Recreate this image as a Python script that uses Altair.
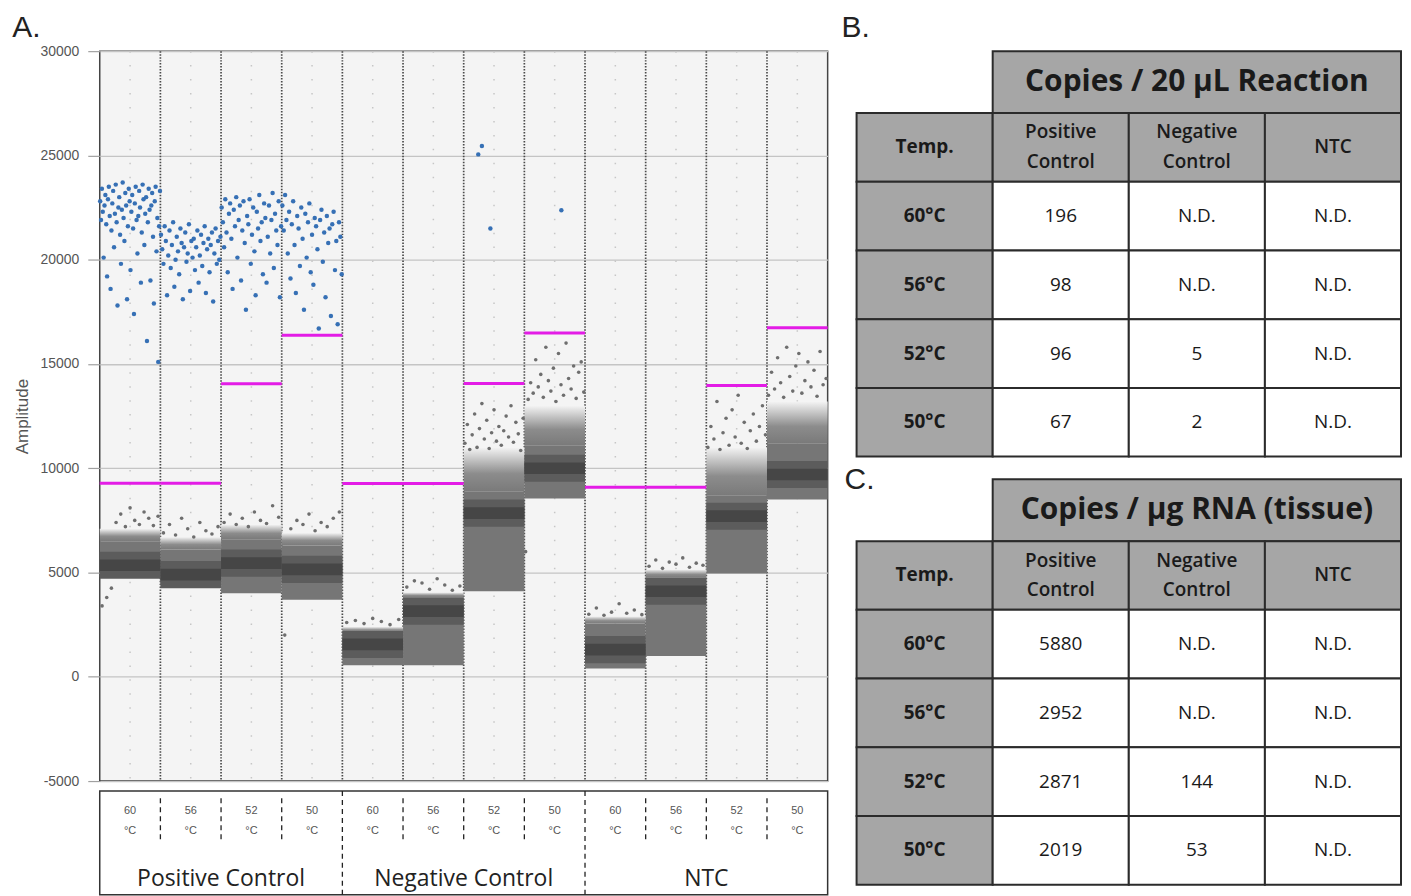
import altair as alt
import pandas as pd

# ---------------- data: panel A (droplet amplitudes) ----------------
group_names = ["Positive Control", "Negative Control", "NTC"]
temp_labels = ["60", "56", "52", "50"]

thresholds = [9280, 9280, 14050, 16380, 9270, 9270, 14060, 16490, 9090, 9090, 13970, 16740]
neg_bottom = [4800, 4400, 4000, 3700, 550, 550, 4100, 8550, 400, 1000, 4950, 8500]
neg_band = [5350, 4900, 5450, 5150, 1550, 3150, 7850, 10000, 1300, 4100, 7700, 9700]
neg_top = [6500, 6100, 6600, 6300, 2150, 3800, 8900, 11100, 2550, 4750, 8700, 11200]
neg_haze = [7100, 6700, 7300, 6900, 2400, 4050, 11000, 13000, 2900, 5150, 11000, 13200]

pos_w1 = [22800, 21900, 23400, 22300, 20100, 22600, 23100, 21700, 19200, 22900, 23500, 22100, 18600, 21400,
          22700, 23300, 20600, 22200, 23600, 21800, 17800, 22500, 23000, 21200, 19800, 22400, 23700, 22000,
          20900, 23200, 22600, 18100, 21600, 23400, 22800, 19500, 22300, 23100, 21500, 17400, 22700, 23500,
          21900, 20300, 22100, 23300, 22500, 18900, 21300, 23600, 22900, 20700, 22200, 23000, 16100, 21800,
          23400, 22400, 19000, 22600, 23200, 21100, 17900, 22800, 23500, 20400, 22000, 15100, 21600, 23300]
pos_w2 = [21200, 20500, 19800, 21600, 20900, 18300, 20200, 21400, 19600, 20700, 21800, 18700, 20000, 21100,
          20400, 19300, 21500, 20800, 18100, 20600, 21300, 19900, 20300, 21700, 18500, 20900, 20100, 21000,
          19500, 20600, 21400, 18900, 20200, 21200, 19700, 20800, 21600, 18400, 20500, 21000, 19400, 20700,
          21300, 18000, 20300, 21500, 19800, 20900, 20000, 21100]
pos_w3 = [22500, 21800, 20600, 22900, 21300, 19400, 22200, 22700, 21000, 18600, 22400, 21600, 23000, 20100,
          21900, 22600, 19000, 21400, 22800, 20800, 17600, 22100, 21700, 22900, 19800, 21200, 22500, 20400,
          18300, 22300, 21500, 23100, 20900, 21800, 19300, 22700, 22000, 18900, 21100, 22600, 20300, 21900,
          23200, 19600, 22200, 21400, 20700, 22800, 18200, 21600]
pos_w4 = [22600, 21400, 23100, 21900, 20300, 22300, 19100, 21700, 22800, 20700, 18400, 22100, 21500, 19700,
          22500, 21000, 17600, 22200, 20100, 21800, 22700, 19400, 21200, 18800, 22000, 21600, 20500, 16700,
          21900, 22400, 19900, 21300, 18200, 22100, 20800, 21500, 17300, 21700, 22300, 19500, 20900, 16900,
          21800, 21100, 19300]
# sparse positive droplets: (event fraction within the well, amplitude)
pos_w7 = [(0.30, 25450), (0.24, 25050), (0.44, 21500)]
pos_w8 = [(0.61, 22370)]

rain = [
    [3400, 3800, 4250, 7400, 7800, 7200, 8100, 7500, 7300, 7900, 7600, 7250, 7700],
    [6900, 7300, 6800, 7600, 7100, 6700, 7400, 7000, 6850, 7200],
    [7400, 7800, 7300, 7600, 7200, 7900, 7500, 7350, 8200, 7650],
    [2000, 7100, 7500, 7300, 7800, 7000, 7400, 7200, 7600, 7900],
    [2600, 2700, 2550, 2800, 2650, 2500, 2750],
    [4300, 4600, 4500, 4200, 4700, 4400, 4150, 4350],
    [11200, 12100, 10900, 11600, 12600, 11000, 11900, 13100, 11400, 12300, 10950, 11700, 12800, 11300,
     12000, 11100, 11800, 12500, 11500, 13000, 11250, 12200, 11650, 10850, 12400],
    [6000, 13300, 14100, 13600, 15200, 13900, 14500, 13400, 15800, 14200, 13700, 14800, 13200, 15500, 14000,
     13500, 16000, 14300, 13800, 14900, 13350, 14600, 15100, 13650],
    [3000, 3300, 2950, 3100, 3500, 3050, 3200, 2980],
    [5300, 5600, 5200, 5500, 5400, 5700, 5250, 5450, 5350],
    [11000, 12000, 11400, 13200, 10900, 11700, 12400, 11100, 12800, 11500, 13500, 11200, 12200, 10950,
     11800, 12600, 11300, 12000, 13000, 11600],
    [13500, 14600, 13800, 15300, 14100, 13400, 15800, 14400, 13700, 14900, 15500, 13600, 14200, 15100,
     13900, 14700, 13450, 15600, 14000, 14300],
]

# ---------------- data: panels B and C (tables) ----------------
table_cols = ["Temp.", "Positive\nControl", "Negative\nControl", "NTC"]
table_rows = ["60°C", "56°C", "52°C", "50°C"]
b_title = "Copies / 20 µL Reaction"
b_pc = ["196", "98", "96", "67"]
b_nc = ["N.D.", "N.D.", "5", "2"]
b_ntc = ["N.D.", "N.D.", "N.D.", "N.D."]
c_title = "Copies / µg RNA (tissue)"
c_pc = ["5880", "2952", "2871", "2019"]
c_nc = ["N.D.", "N.D.", "144", "53"]
c_ntc = ["N.D.", "N.D.", "N.D.", "N.D."]

# ---------------- build tables for panel A ----------------
n_wells = 12
wells_df = pd.DataFrame({
    "x0": list(range(n_wells)),
    "x1": [i + 1 for i in range(n_wells)],
    "thr": thresholds,
    "bottom": neg_bottom,
    "top": neg_top,
    "haze": neg_haze,
    "band_lo": [b - 650 for b in neg_band],
    "band_hi": [b + 650 for b in neg_band],
    "core_lo": [b - 280 for b in neg_band],
    "core_hi": [b + 280 for b in neg_band],
})

pos_rows = []
for w, amps in [(0, pos_w1), (1, pos_w2), (2, pos_w3), (3, pos_w4)]:
    n = len(amps)
    for i, a in enumerate(amps):
        pos_rows.append({"x": w + (i + 0.5) / n, "amp": a})
for w, pairs in [(6, pos_w7), (7, pos_w8)]:
    for f, a in pairs:
        pos_rows.append({"x": w + f, "amp": a})
pos_df = pd.DataFrame(pos_rows)

rain_rows = []
for w, amps in enumerate(rain):
    n = len(amps)
    for i, a in enumerate(amps):
        rain_rows.append({"x": w + (i + 0.5) / n, "amp": a})
rain_df = pd.DataFrame(rain_rows)

centers_df = pd.DataFrame({"c": [i + 0.5 for i in range(n_wells)]})
bounds_df = pd.DataFrame({"b": list(range(1, n_wells))})

xs = alt.Scale(domain=[0, n_wells], nice=False, zero=False)
ys = alt.Scale(domain=[-5000, 30000], nice=False, zero=False)
yaxis = alt.Axis(
    values=list(range(-5000, 30001, 5000)), labelExpr="datum.value + ''",
    labelFont="Liberation Sans", labelFontSize=14, labelColor="#555555",
    tickColor="#a0a0a0", tickSize=12, tickWidth=1.2, labelPadding=9,
    grid=True, gridColor="#c4c4c4", gridWidth=1.3, domain=False,
    title="Amplitude", titleFont="Liberation Sans", titleFontSize=17,
    titleFontWeight="normal", titleColor="#555555", titlePadding=9,
)


def X(f):
    return alt.X(f"{f}:Q", scale=xs, axis=None)


def Y(f):
    return alt.Y(f"{f}:Q", scale=ys, axis=yaxis)


haze_fill = alt.Gradient(
    gradient="linear", x1=0, x2=0, y1=0, y2=1,
    stops=[alt.GradientStop(color="#f4f4f4", offset=0), alt.GradientStop(color="#8c8c8c", offset=0.6),
           alt.GradientStop(color="#7a7a7a", offset=1)],
)

centers = alt.Chart(centers_df).mark_rule(color="#c6c6c6", strokeDash=[1.5, 12.5], strokeWidth=1.5).encode(x=X("c"))
bounds = alt.Chart(bounds_df).mark_rule(color="#4a4a4a", strokeDash=[1.5, 1.5], strokeWidth=1.7).encode(x=X("b"))
wb = alt.Chart(wells_df)
body = wb.mark_rect(color="#767676").encode(x=X("x0"), x2="x1", y=Y("bottom"), y2="top")
haze = wb.mark_rect(color=haze_fill).encode(x=X("x0"), x2="x1", y=Y("top"), y2="haze")
band = wb.mark_rect(color="#5c5c5c").encode(x=X("x0"), x2="x1", y=Y("band_lo"), y2="band_hi")
core = wb.mark_rect(color="#464646").encode(x=X("x0"), x2="x1", y=Y("core_lo"), y2="core_hi")
rain_pts = alt.Chart(rain_df).mark_circle(size=13, color="#6e6e6e", opacity=1).encode(x=X("x"), y=Y("amp"))
pos_pts = alt.Chart(pos_df).mark_circle(size=20, color="#3670b5", opacity=1).encode(x=X("x"), y=Y("amp"))
thr = wb.mark_rule(color="#e31ce6", strokeWidth=3).encode(x=X("x0"), x2="x1", y=Y("thr"))

plot = alt.layer(centers, bounds, body, haze, band, core, rain_pts, pos_pts, thr).properties(
    width=730, height=732,
    view=alt.ViewBackground(fill="#f4f4f4", stroke="#444444", strokeWidth=1.5),
)

# bottom label box
box_h = 104
by = alt.Scale(domain=[0, 1], reverse=True)
temps_df = pd.DataFrame({"x": [i + 0.5 for i in range(n_wells)],
                         "t": [t + "\n°C" for t in temp_labels * 3], "y": [0.19] * n_wells})
temps_txt = alt.Chart(temps_df).mark_text(lineBreak="\n", fontSize=11, color="#555555",
                                          font="Liberation Sans", lineHeight=20).encode(
    x=X("x"), y=alt.Y("y:Q", scale=by, axis=None), text="t:N")
sep_df = pd.DataFrame({"b": list(range(1, n_wells)),
                       "y0": [0.0 if b % 4 == 0 else 0.07 for b in range(1, n_wells)],
                       "y1": [1.0 if b % 4 == 0 else 0.47 for b in range(1, n_wells)]})
seps = alt.Chart(sep_df).mark_rule(color="#222222", strokeDash=[5, 4], strokeWidth=1.3).encode(
    x=X("b"), y=alt.Y("y0:Q", scale=by, axis=None), y2="y1")
grp_df = pd.DataFrame({"x": [2, 6, 10], "g": group_names, "y": [0.85] * 3})
grp_txt = alt.Chart(grp_df).mark_text(fontSize=23, font="Open Sans", color="#222222").encode(
    x=X("x"), y=alt.Y("y:Q", scale=by, axis=None), text="g:N")
box = alt.layer(seps, temps_txt, grp_txt).properties(
    width=730, height=box_h,
    view=alt.ViewBackground(fill="white", stroke="#333333", strokeWidth=1.5),
)

panel_a = alt.vconcat(plot, box, spacing=0).properties(
    title=alt.TitleParams("A.", anchor="start", fontSize=30, font="Liberation Sans", fontWeight="normal",
                          color="#222222", offset=0)
)

# ---------------- tables B and C ----------------
row_h = [0.9, 1, 1, 1, 1, 1]
gap = 0.33
cells = []
texts = []
starts = [0.0, sum(row_h) + gap]
for t_idx, (title, pc, nc, ntc) in enumerate([(b_title, b_pc, b_nc, b_ntc), (c_title, c_pc, c_nc, c_ntc)]):
    y0 = starts[t_idx]
    tops = [y0]
    for h in row_h:
        tops.append(tops[-1] + h)
    cells.append({"x0": 1, "x1": 4, "y0": tops[0], "y1": tops[1], "fill": "#a6a6a6"})
    texts.append({"x": 2.5, "y": (tops[0] + tops[1]) / 2, "t": title, "kind": "title"})
    for c, lab in enumerate(table_cols):
        cells.append({"x0": c, "x1": c + 1, "y0": tops[1], "y1": tops[2], "fill": "#a6a6a6"})
        kind = "bold" if c == 0 else ("head2" if "\n" in lab else "head")
        texts.append({"x": c + 0.5, "y": (tops[1] + tops[2]) / 2, "t": lab, "kind": kind})
    for r, lab in enumerate(table_rows):
        ya, yb = tops[2 + r], tops[3 + r]
        cells.append({"x0": 0, "x1": 1, "y0": ya, "y1": yb, "fill": "#a6a6a6"})
        texts.append({"x": 0.5, "y": (ya + yb) / 2, "t": lab, "kind": "bold"})
        for c, vals in enumerate([pc, nc, ntc], start=1):
            cells.append({"x0": c, "x1": c + 1, "y0": ya, "y1": yb, "fill": "#ffffff"})
            texts.append({"x": c + 0.5, "y": (ya + yb) / 2, "t": vals[r], "kind": "val"})
total_h = starts[1] + sum(row_h)
cells_df = pd.DataFrame(cells)
texts_df = pd.DataFrame(texts)

lead = 0.11  # blank margin left of the tables, holding the panel letters
tx = alt.Scale(domain=[-lead, 4], nice=False, zero=False)
ty = alt.Scale(domain=[0, total_h], nice=False, zero=False, reverse=True)


def TX(f):
    return alt.X(f"{f}:Q", scale=tx, axis=None)


def TY(f):
    return alt.Y(f"{f}:Q", scale=ty, axis=None)


tfont = "Open Sans"
cell_marks = alt.Chart(cells_df).mark_rect(stroke="#2b2b2b", strokeWidth=2).encode(
    x=TX("x0"), x2="x1", y=TY("y0"), y2="y1", fill=alt.Fill("fill:N", scale=None))
tb = alt.Chart(texts_df)
t_title = tb.transform_filter("datum.kind == 'title'").mark_text(
    fontSize=30, font=tfont, fontWeight="bold", color="#1a1a1a").encode(x=TX("x"), y=TY("y"), text="t:N")
t_bold = tb.transform_filter("datum.kind == 'bold'").mark_text(
    fontSize=19, font=tfont, fontWeight="bold", color="#1a1a1a").encode(x=TX("x"), y=TY("y"), text="t:N")
t_head = tb.transform_filter("datum.kind == 'head'").mark_text(
    fontSize=19, font=tfont, fontWeight=600, color="#1a1a1a").encode(x=TX("x"), y=TY("y"), text="t:N")
t_head2 = tb.transform_filter("datum.kind == 'head2'").mark_text(
    fontSize=19, font=tfont, fontWeight=600, color="#1a1a1a", lineBreak="\n", lineHeight=30, dy=-15).encode(
    x=TX("x"), y=TY("y"), text="t:N")
t_val = tb.transform_filter("datum.kind == 'val'").mark_text(
    fontSize=19, font=tfont, color="#1a1a1a").encode(x=TX("x"), y=TY("y"), text="t:N")
lab_df = pd.DataFrame({"x": [-lead], "y": [starts[1]], "t": ["C."]})
c_label = alt.Chart(lab_df).mark_text(fontSize=30, font="Liberation Sans", color="#222222", align="left",
                                      baseline="middle", dx=3, dy=1).encode(x=TX("x"), y=TY("y"), text="t:N")

tables = alt.layer(cell_marks, t_title, t_bold, t_head, t_head2, t_val, c_label).properties(
    width=561, height=836,
    view=alt.ViewBackground(stroke="transparent"),
    title=alt.TitleParams("B.", anchor="start", fontSize=30, font="Liberation Sans", fontWeight="normal",
                          color="#222222", offset=7),
)

chart = alt.hconcat(panel_a, tables, spacing=10).properties(
    padding={"left": 4, "top": 3, "right": 0, "bottom": 0}
).configure_view(stroke="transparent")
chart.save("out.html", embed_options={"renderer": "svg", "actions": False})
